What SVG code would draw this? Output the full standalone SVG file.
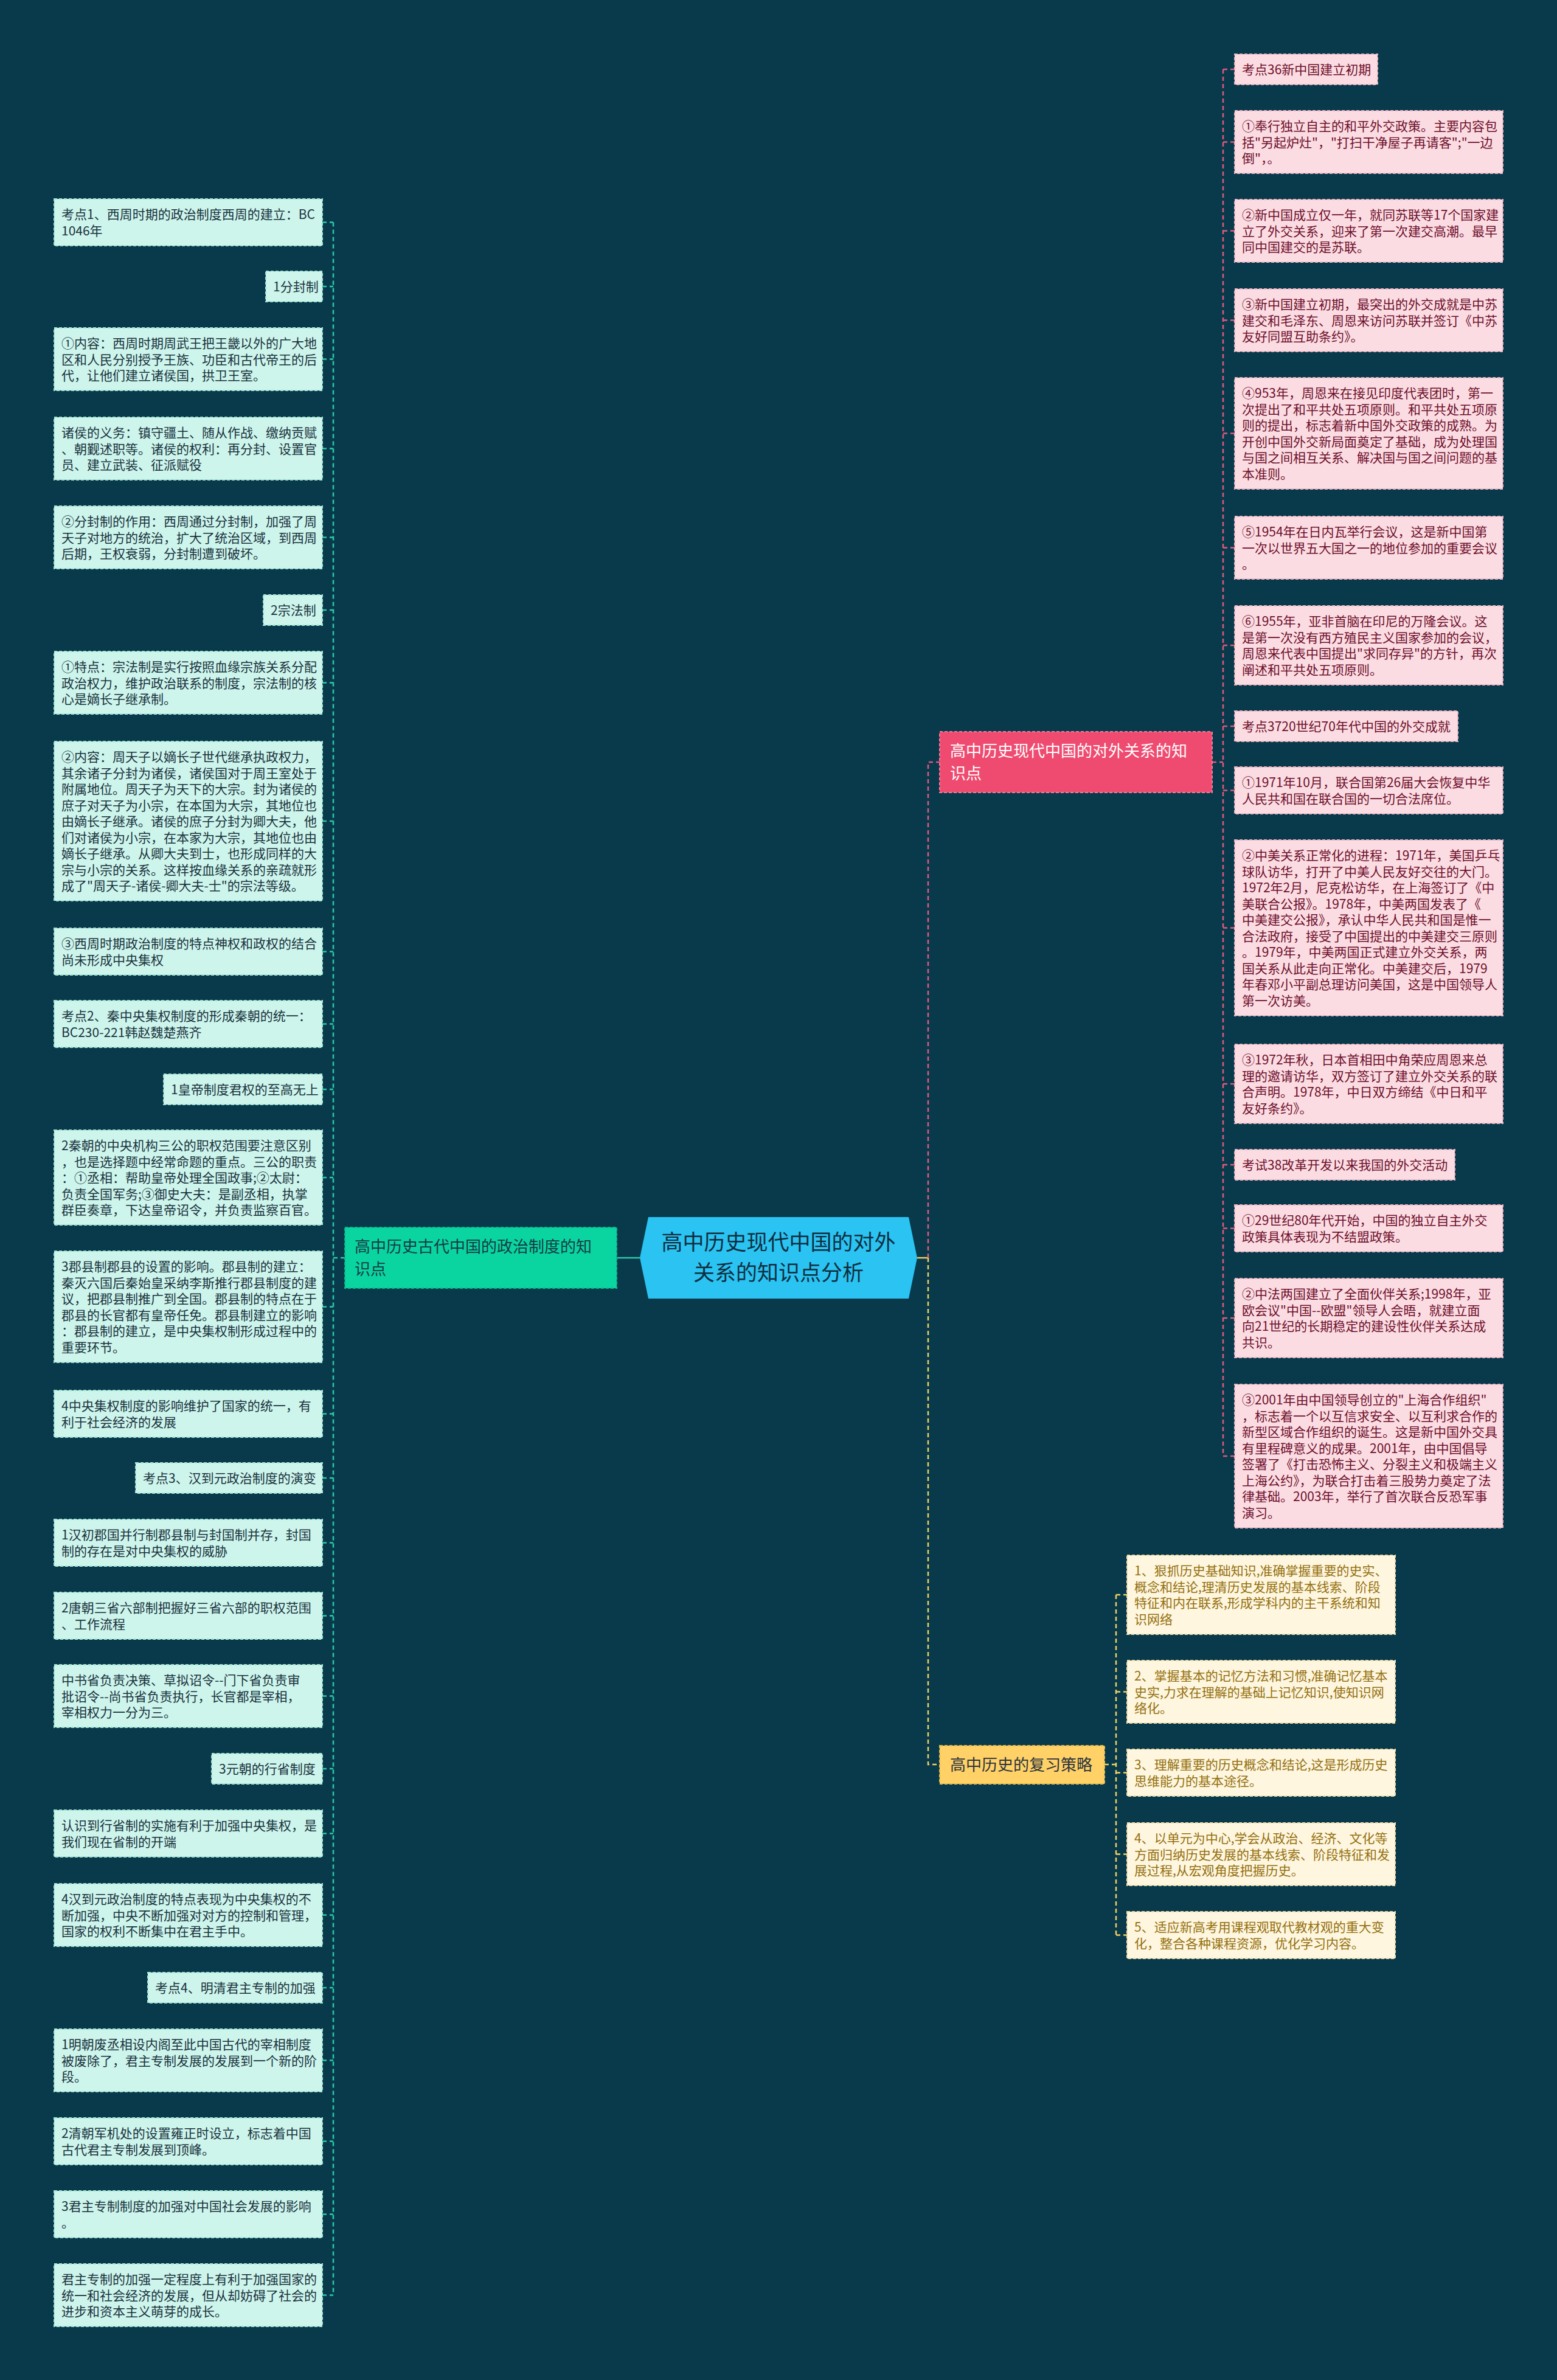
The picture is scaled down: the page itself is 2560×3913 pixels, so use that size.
<svg xmlns="http://www.w3.org/2000/svg" width="2560" height="3913" viewBox="0 0 2560 3913">
<style>
.t{font-family:"Noto Sans CJK SC","Noto Sans",sans-serif;font-size:21px}
.bl{fill:#CDF5EC;stroke:#A2E4D4;stroke-width:2;stroke-dasharray:5 3}
.bp{fill:#FBDCE2;stroke:#EFB5C3;stroke-width:2;stroke-dasharray:5 3}
.by{fill:#FEF6DF;stroke:#EEDDA8;stroke-width:2;stroke-dasharray:5 3}
.tl{fill:#1A323D}
.tp{fill:#6E0F2C}
.ty{fill:#94700F}
.cl{stroke:#2CC8A6;stroke-width:2.5;fill:none;stroke-dasharray:7 5}
.cp{stroke:#E0587D;stroke-width:2.5;fill:none;stroke-dasharray:7 5}
.cy{stroke:#F0CF5E;stroke-width:2.5;fill:none;stroke-dasharray:7 5}
.mt{font-family:"Noto Sans CJK SC","Noto Sans",sans-serif;font-size:26px}
</style>
<rect x="0" y="0" width="2560" height="3913" fill="#083A4C"/>

<g id="connectors">
<line x1="1014" y1="2068" x2="1052" y2="2068" stroke="#2CC8A6" stroke-width="2.5"/>
<line x1="1508" y1="2068" x2="1526" y2="2068" stroke="#F0CF5E" stroke-width="2.5"/>
<path class="cp" d="M1526,2068 V1253 H1545"/>
<path class="cy" d="M1526,2068 V2901 H1545"/>
<path class="cl" d="M567,2068 H548"/>
<path class="cl" d="M548,365.5 V3773.5"/>
<path class="cl" d="M530,365.5H548M530,471H548M530,590.5H548M530,737.5H548M530,883.5H548M530,1003H548M530,1122.5H548M530,1350H548M530,1564.5H548M530,1683.5H548M530,1791H548M530,1936H548M530,2148.5H548M530,2324.5H548M530,2430H548M530,2536.5H548M530,2656.5H548M530,2788.5H548M530,2908H548M530,3014.5H548M530,3148.5H548M530,3268H548M530,3387.5H548M530,3520.5H548M530,3640.5H548M530,3773.5H548"/>
<path class="cp" d="M1993,1253 H2011"/>
<path class="cp" d="M2011,114 V2394"/>
<path class="cp" d="M2011,114H2030M2011,233.5H2030M2011,379.5H2030M2011,526.5H2030M2011,712.5H2030M2011,900.5H2030M2011,1061H2030M2011,1194H2030M2011,1299.5H2030M2011,1525.5H2030M2011,1782H2030M2011,1915H2030M2011,2019.5H2030M2011,2167H2030M2011,2394H2030"/>
<path class="cy" d="M1816,2901 H1835"/>
<path class="cy" d="M1835,2622 V3181.5"/>
<path class="cy" d="M1835,2622H1853M1835,2781.5H1853M1835,2914.5H1853M1835,3048.5H1853M1835,3181.5H1853"/>
</g>

<g id="center">
<path d="M1052,2068 L1066,2001 L1494,2001 L1508,2068 L1494,2135 L1066,2135 Z" fill="#2AC3F2"/>
<text font-family="Noto Sans CJK SC, Noto Sans, sans-serif" font-size="35" fill="#0E2E40" text-anchor="middle"><tspan x="1280" y="2055">高中历史现代中国的对外</tspan><tspan x="1280" y="2105">关系的知识点分析</tspan></text>
</g>

<g id="main-left">
<rect x="567" y="2018" width="447" height="100" fill="#0AD5A0" stroke="#08B88A" stroke-width="2" stroke-dasharray="5 3"/>
<text class="mt" fill="#163A45"><tspan x="583" y="2059">高中历史古代中国的政治制度的知</tspan><tspan x="583" y="2096">识点</tspan></text>
</g>
<g id="main-pink">
<rect x="1545" y="1203" width="448" height="100" fill="#EF4B70" stroke="#F57A98" stroke-width="2" stroke-dasharray="5 3"/>
<text class="mt" fill="#FFFFFF"><tspan x="1562" y="1244">高中历史现代中国的对外关系的知</tspan><tspan x="1562" y="1281">识点</tspan></text>
</g>
<g id="main-yellow">
<rect x="1545" y="2870" width="271" height="63" fill="#FFD166" stroke="#E8B94A" stroke-width="2" stroke-dasharray="5 3"/>
<text class="mt" fill="#2B3440"><tspan x="1562" y="2911">高中历史的复习策略</tspan></text>
</g>

<g id="left-nodes">
<g id="L1"><rect class="bl" x="89" y="327" width="441" height="77"/><text class="t tl"><tspan x="101" y="360">考点1、西周时期的政治制度西周的建立：BC</tspan><tspan x="101" y="386.5">1046年</tspan></text></g>
<g id="L2"><rect class="bl" x="437" y="446" width="93" height="50"/><text class="t tl"><tspan x="449" y="479">1分封制</tspan></text></g>
<g id="L3"><rect class="bl" x="89" y="539" width="441" height="103"/><text class="t tl"><tspan x="101" y="572">①内容：西周时期周武王把王畿以外的广大地</tspan><tspan x="101" y="598.5">区和人民分别授予王族、功臣和古代帝王的后</tspan><tspan x="101" y="625">代，让他们建立诸侯国，拱卫王室。</tspan></text></g>
<g id="L4"><rect class="bl" x="89" y="686" width="441" height="103"/><text class="t tl"><tspan x="101" y="719">诸侯的义务：镇守疆土、随从作战、缴纳贡赋</tspan><tspan x="101" y="745.5">、朝觐述职等。诸侯的权利：再分封、设置官</tspan><tspan x="101" y="772">员、建立武装、征派赋役</tspan></text></g>
<g id="L5"><rect class="bl" x="89" y="832" width="441" height="103"/><text class="t tl"><tspan x="101" y="865">②分封制的作用：西周通过分封制，加强了周</tspan><tspan x="101" y="891.5">天子对地方的统治，扩大了统治区域，到西周</tspan><tspan x="101" y="918">后期，王权衰弱，分封制遭到破坏。</tspan></text></g>
<g id="L6"><rect class="bl" x="433" y="978" width="97" height="50"/><text class="t tl"><tspan x="445" y="1011">2宗法制</tspan></text></g>
<g id="L7"><rect class="bl" x="89" y="1071" width="441" height="103"/><text class="t tl"><tspan x="101" y="1104">①特点：宗法制是实行按照血缘宗族关系分配</tspan><tspan x="101" y="1130.5">政治权力，维护政治联系的制度，宗法制的核</tspan><tspan x="101" y="1157">心是嫡长子继承制。</tspan></text></g>
<g id="L8"><rect class="bl" x="89" y="1219" width="441" height="262"/><text class="t tl"><tspan x="101" y="1252">②内容：周天子以嫡长子世代继承执政权力，</tspan><tspan x="101" y="1278.5">其余诸子分封为诸侯，诸侯国对于周王室处于</tspan><tspan x="101" y="1305">附属地位。周天子为天下的大宗。封为诸侯的</tspan><tspan x="101" y="1331.5">庶子对天子为小宗，在本国为大宗，其地位也</tspan><tspan x="101" y="1358">由嫡长子继承。诸侯的庶子分封为卿大夫，他</tspan><tspan x="101" y="1384.5">们对诸侯为小宗，在本家为大宗，其地位也由</tspan><tspan x="101" y="1411">嫡长子继承。从卿大夫到士，也形成同样的大</tspan><tspan x="101" y="1437.5">宗与小宗的关系。这样按血缘关系的亲疏就形</tspan><tspan x="101" y="1464">成了"周天子-诸侯-卿大夫-士"的宗法等级。</tspan></text></g>
<g id="L9"><rect class="bl" x="89" y="1526" width="441" height="77"/><text class="t tl"><tspan x="101" y="1559">③西周时期政治制度的特点神权和政权的结合</tspan><tspan x="101" y="1585.5">尚未形成中央集权</tspan></text></g>
<g id="L10"><rect class="bl" x="89" y="1645" width="441" height="77"/><text class="t tl"><tspan x="101" y="1678">考点2、秦中央集权制度的形成秦朝的统一：</tspan><tspan x="101" y="1704.5">BC230-221韩赵魏楚燕齐</tspan></text></g>
<g id="L11"><rect class="bl" x="269" y="1766" width="261" height="50"/><text class="t tl"><tspan x="281" y="1799">1皇帝制度君权的至高无上</tspan></text></g>
<g id="L12"><rect class="bl" x="89" y="1858" width="441" height="156"/><text class="t tl"><tspan x="101" y="1891">2秦朝的中央机构三公的职权范围要注意区别</tspan><tspan x="101" y="1917.5">，也是选择题中经常命题的重点。三公的职责</tspan><tspan x="101" y="1944">：①丞相：帮助皇帝处理全国政事;②太尉：</tspan><tspan x="101" y="1970.5">负责全国军务;③御史大夫：是副丞相，执掌</tspan><tspan x="101" y="1997">群臣奏章，下达皇帝诏令，并负责监察百官。</tspan></text></g>
<g id="L13"><rect class="bl" x="89" y="2057" width="441" height="183"/><text class="t tl"><tspan x="101" y="2090">3郡县制郡县的设置的影响。郡县制的建立：</tspan><tspan x="101" y="2116.5">秦灭六国后秦始皇采纳李斯推行郡县制度的建</tspan><tspan x="101" y="2143">议，把郡县制推广到全国。郡县制的特点在于</tspan><tspan x="101" y="2169.5">郡县的长官都有皇帝任免。郡县制建立的影响</tspan><tspan x="101" y="2196">：郡县制的建立，是中央集权制形成过程中的</tspan><tspan x="101" y="2222.5">重要环节。</tspan></text></g>
<g id="L14"><rect class="bl" x="89" y="2286" width="441" height="77"/><text class="t tl"><tspan x="101" y="2319">4中央集权制度的影响维护了国家的统一，有</tspan><tspan x="101" y="2345.5">利于社会经济的发展</tspan></text></g>
<g id="L15"><rect class="bl" x="223" y="2405" width="307" height="50"/><text class="t tl"><tspan x="235" y="2438">考点3、汉到元政治制度的演变</tspan></text></g>
<g id="L16"><rect class="bl" x="89" y="2498" width="441" height="77"/><text class="t tl"><tspan x="101" y="2531">1汉初郡国并行制郡县制与封国制并存，封国</tspan><tspan x="101" y="2557.5">制的存在是对中央集权的威胁</tspan></text></g>
<g id="L17"><rect class="bl" x="89" y="2618" width="441" height="77"/><text class="t tl"><tspan x="101" y="2651">2唐朝三省六部制把握好三省六部的职权范围</tspan><tspan x="101" y="2677.5">、工作流程</tspan></text></g>
<g id="L18"><rect class="bl" x="89" y="2737" width="441" height="103"/><text class="t tl"><tspan x="101" y="2770">中书省负责决策、草拟诏令--门下省负责审</tspan><tspan x="101" y="2796.5">批诏令--尚书省负责执行，长官都是宰相，</tspan><tspan x="101" y="2823">宰相权力一分为三。</tspan></text></g>
<g id="L19"><rect class="bl" x="348" y="2883" width="182" height="50"/><text class="t tl"><tspan x="360" y="2916">3元朝的行省制度</tspan></text></g>
<g id="L20"><rect class="bl" x="89" y="2976" width="441" height="77"/><text class="t tl"><tspan x="101" y="3009">认识到行省制的实施有利于加强中央集权，是</tspan><tspan x="101" y="3035.5">我们现在省制的开端</tspan></text></g>
<g id="L21"><rect class="bl" x="89" y="3097" width="441" height="103"/><text class="t tl"><tspan x="101" y="3130">4汉到元政治制度的特点表现为中央集权的不</tspan><tspan x="101" y="3156.5">断加强，中央不断加强对对方的控制和管理，</tspan><tspan x="101" y="3183">国家的权利不断集中在君主手中。</tspan></text></g>
<g id="L22"><rect class="bl" x="243" y="3243" width="287" height="50"/><text class="t tl"><tspan x="255" y="3276">考点4、明清君主专制的加强</tspan></text></g>
<g id="L23"><rect class="bl" x="89" y="3336" width="441" height="103"/><text class="t tl"><tspan x="101" y="3369">1明朝废丞相设内阁至此中国古代的宰相制度</tspan><tspan x="101" y="3395.5">被废除了，君主专制发展的发展到一个新的阶</tspan><tspan x="101" y="3422">段。</tspan></text></g>
<g id="L24"><rect class="bl" x="89" y="3482" width="441" height="77"/><text class="t tl"><tspan x="101" y="3515">2清朝军机处的设置雍正时设立，标志着中国</tspan><tspan x="101" y="3541.5">古代君主专制发展到顶峰。</tspan></text></g>
<g id="L25"><rect class="bl" x="89" y="3602" width="441" height="77"/><text class="t tl"><tspan x="101" y="3635">3君主专制制度的加强对中国社会发展的影响</tspan><tspan x="101" y="3661.5">。</tspan></text></g>
<g id="L26"><rect class="bl" x="89" y="3722" width="441" height="103"/><text class="t tl"><tspan x="101" y="3755">君主专制的加强一定程度上有利于加强国家的</tspan><tspan x="101" y="3781.5">统一和社会经济的发展，但从却妨碍了社会的</tspan><tspan x="101" y="3808">进步和资本主义萌芽的成长。</tspan></text></g>
</g>

<g id="pink-nodes">
<g id="P1"><rect class="bp" x="2030" y="89" width="235" height="50"/><text class="t tp"><tspan x="2042" y="122">考点36新中国建立初期</tspan></text></g>
<g id="P2"><rect class="bp" x="2030" y="182" width="441" height="103"/><text class="t tp"><tspan x="2042" y="215">①奉行独立自主的和平外交政策。主要内容包</tspan><tspan x="2042" y="241.5">括"另起炉灶"，"打扫干净屋子再请客";"一边</tspan><tspan x="2042" y="268">倒"，。</tspan></text></g>
<g id="P3"><rect class="bp" x="2030" y="328" width="441" height="103"/><text class="t tp"><tspan x="2042" y="361">②新中国成立仅一年，就同苏联等17个国家建</tspan><tspan x="2042" y="387.5">立了外交关系，迎来了第一次建交高潮。最早</tspan><tspan x="2042" y="414">同中国建交的是苏联。</tspan></text></g>
<g id="P4"><rect class="bp" x="2030" y="475" width="441" height="103"/><text class="t tp"><tspan x="2042" y="508">③新中国建立初期，最突出的外交成就是中苏</tspan><tspan x="2042" y="534.5">建交和毛泽东、周恩来访问苏联并签订《中苏</tspan><tspan x="2042" y="561">友好同盟互助条约》。</tspan></text></g>
<g id="P5"><rect class="bp" x="2030" y="621" width="441" height="183"/><text class="t tp"><tspan x="2042" y="654">④953年，周恩来在接见印度代表团时，第一</tspan><tspan x="2042" y="680.5">次提出了和平共处五项原则。和平共处五项原</tspan><tspan x="2042" y="707">则的提出，标志着新中国外交政策的成熟。为</tspan><tspan x="2042" y="733.5">开创中国外交新局面奠定了基础，成为处理国</tspan><tspan x="2042" y="760">与国之间相互关系、解决国与国之间问题的基</tspan><tspan x="2042" y="786.5">本准则。</tspan></text></g>
<g id="P6"><rect class="bp" x="2030" y="849" width="441" height="103"/><text class="t tp"><tspan x="2042" y="882">⑤1954年在日内瓦举行会议，这是新中国第</tspan><tspan x="2042" y="908.5">一次以世界五大国之一的地位参加的重要会议</tspan><tspan x="2042" y="935">。</tspan></text></g>
<g id="P7"><rect class="bp" x="2030" y="996" width="441" height="130"/><text class="t tp"><tspan x="2042" y="1029">⑥1955年，亚非首脑在印尼的万隆会议。这</tspan><tspan x="2042" y="1055.5">是第一次没有西方殖民主义国家参加的会议，</tspan><tspan x="2042" y="1082">周恩来代表中国提出"求同存异"的方针，再次</tspan><tspan x="2042" y="1108.5">阐述和平共处五项原则。</tspan></text></g>
<g id="P8"><rect class="bp" x="2030" y="1169" width="367" height="50"/><text class="t tp"><tspan x="2042" y="1202">考点3720世纪70年代中国的外交成就</tspan></text></g>
<g id="P9"><rect class="bp" x="2030" y="1261" width="441" height="77"/><text class="t tp"><tspan x="2042" y="1294">①1971年10月，联合国第26届大会恢复中华</tspan><tspan x="2042" y="1320.5">人民共和国在联合国的一切合法席位。</tspan></text></g>
<g id="P10"><rect class="bp" x="2030" y="1381" width="441" height="289"/><text class="t tp"><tspan x="2042" y="1414">②中美关系正常化的进程：1971年，美国乒乓</tspan><tspan x="2042" y="1440.5">球队访华，打开了中美人民友好交往的大门。</tspan><tspan x="2042" y="1467">1972年2月，尼克松访华，在上海签订了《中</tspan><tspan x="2042" y="1493.5">美联合公报》。1978年，中美两国发表了《</tspan><tspan x="2042" y="1520">中美建交公报》，承认中华人民共和国是惟一</tspan><tspan x="2042" y="1546.5">合法政府，接受了中国提出的中美建交三原则</tspan><tspan x="2042" y="1573">。1979年，中美两国正式建立外交关系，两</tspan><tspan x="2042" y="1599.5">国关系从此走向正常化。中美建交后，1979</tspan><tspan x="2042" y="1626">年春邓小平副总理访问美国，这是中国领导人</tspan><tspan x="2042" y="1652.5">第一次访美。</tspan></text></g>
<g id="P11"><rect class="bp" x="2030" y="1717" width="441" height="130"/><text class="t tp"><tspan x="2042" y="1750">③1972年秋，日本首相田中角荣应周恩来总</tspan><tspan x="2042" y="1776.5">理的邀请访华，双方签订了建立外交关系的联</tspan><tspan x="2042" y="1803">合声明。1978年，中日双方缔结《中日和平</tspan><tspan x="2042" y="1829.5">友好条约》。</tspan></text></g>
<g id="P12"><rect class="bp" x="2030" y="1890" width="362" height="50"/><text class="t tp"><tspan x="2042" y="1923">考试38改革开发以来我国的外交活动</tspan></text></g>
<g id="P13"><rect class="bp" x="2030" y="1981" width="441" height="77"/><text class="t tp"><tspan x="2042" y="2014">①29世纪80年代开始，中国的独立自主外交</tspan><tspan x="2042" y="2040.5">政策具体表现为不结盟政策。</tspan></text></g>
<g id="P14"><rect class="bp" x="2030" y="2102" width="441" height="130"/><text class="t tp"><tspan x="2042" y="2135">②中法两国建立了全面伙伴关系;1998年，亚</tspan><tspan x="2042" y="2161.5">欧会议"中国--欧盟"领导人会晤，就建立面</tspan><tspan x="2042" y="2188">向21世纪的长期稳定的建设性伙伴关系达成</tspan><tspan x="2042" y="2214.5">共识。</tspan></text></g>
<g id="P15"><rect class="bp" x="2030" y="2276" width="441" height="236"/><text class="t tp"><tspan x="2042" y="2309">③2001年由中国领导创立的"上海合作组织"</tspan><tspan x="2042" y="2335.5">，标志着一个以互信求安全、以互利求合作的</tspan><tspan x="2042" y="2362">新型区域合作组织的诞生。这是新中国外交具</tspan><tspan x="2042" y="2388.5">有里程碑意义的成果。2001年，由中国倡导</tspan><tspan x="2042" y="2415">签署了《打击恐怖主义、分裂主义和极端主义</tspan><tspan x="2042" y="2441.5">上海公约》，为联合打击着三股势力奠定了法</tspan><tspan x="2042" y="2468">律基础。2003年，举行了首次联合反恐军事</tspan><tspan x="2042" y="2494.5">演习。</tspan></text></g>
</g>

<g id="yellow-nodes">
<g id="Y1"><rect class="by" x="1853" y="2557" width="441" height="130"/><text class="t ty"><tspan x="1865" y="2590">1、狠抓历史基础知识,准确掌握重要的史实、</tspan><tspan x="1865" y="2616.5">概念和结论,理清历史发展的基本线索、阶段</tspan><tspan x="1865" y="2643">特征和内在联系,形成学科内的主干系统和知</tspan><tspan x="1865" y="2669.5">识网络</tspan></text></g>
<g id="Y2"><rect class="by" x="1853" y="2730" width="441" height="103"/><text class="t ty"><tspan x="1865" y="2763">2、掌握基本的记忆方法和习惯,准确记忆基本</tspan><tspan x="1865" y="2789.5">史实,力求在理解的基础上记忆知识,使知识网</tspan><tspan x="1865" y="2816">络化。</tspan></text></g>
<g id="Y3"><rect class="by" x="1853" y="2876" width="441" height="77"/><text class="t ty"><tspan x="1865" y="2909">3、理解重要的历史概念和结论,这是形成历史</tspan><tspan x="1865" y="2935.5">思维能力的基本途径。</tspan></text></g>
<g id="Y4"><rect class="by" x="1853" y="2997" width="441" height="103"/><text class="t ty"><tspan x="1865" y="3030">4、以单元为中心,学会从政治、经济、文化等</tspan><tspan x="1865" y="3056.5">方面归纳历史发展的基本线索、阶段特征和发</tspan><tspan x="1865" y="3083">展过程,从宏观角度把握历史。</tspan></text></g>
<g id="Y5"><rect class="by" x="1853" y="3143" width="441" height="77"/><text class="t ty"><tspan x="1865" y="3176">5、适应新高考用课程观取代教材观的重大变</tspan><tspan x="1865" y="3202.5">化，整合各种课程资源，优化学习内容。</tspan></text></g>
</g>
</svg>
